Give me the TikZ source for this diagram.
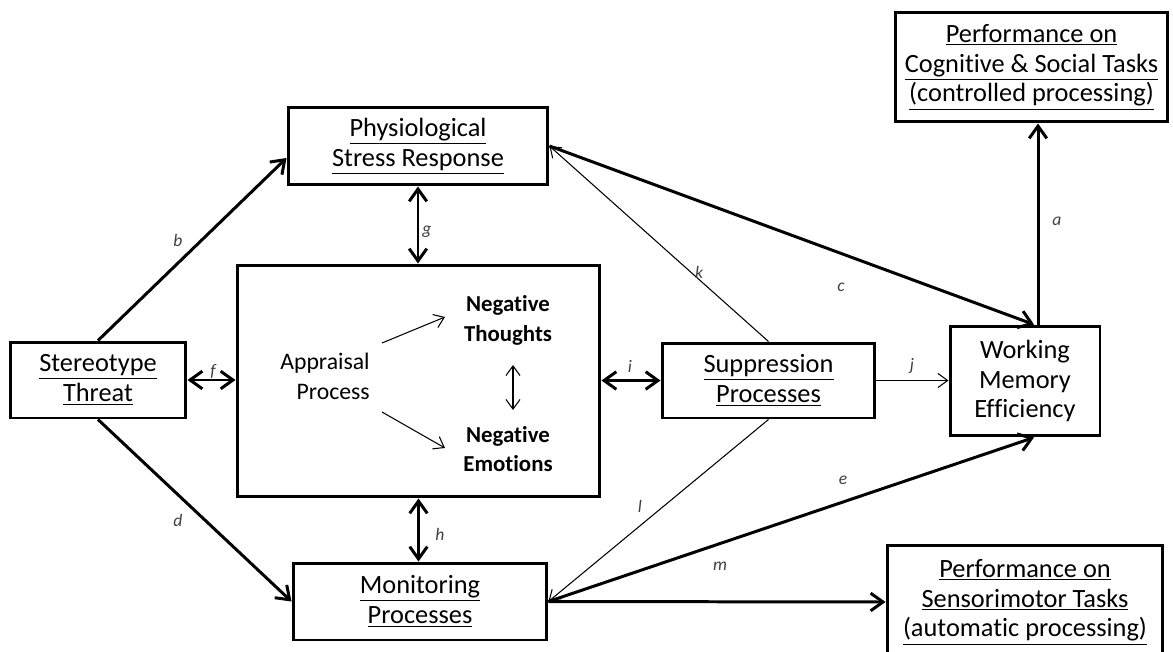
\documentclass[tikz,border=0pt]{standalone}
\usepackage{fontspec}
\setmainfont{Carlito}[Ligatures=NoCommon]
\usetikzlibrary{arrows.meta,calc}
\tikzset{
  box/.style={draw,line width=1.7pt,rectangle,inner sep=0pt,align=center,font=\fontsize{15}{17}\selectfont},
  thick arrow/.style={line width=1.7pt,-{Straight Barb[length=7pt,width=10pt]}},
  thick double/.style={line width=1.7pt,{Straight Barb[length=7pt,width=10pt]}-{Straight Barb[length=7pt,width=10pt]}},
  thin arrow/.style={line width=0.6pt,-{Straight Barb[length=5.5pt,width=8pt]}},
  thin double/.style={line width=0.6pt,{Straight Barb[length=5.5pt,width=8pt]}-{Straight Barb[length=5.5pt,width=8pt]}},
  inner/.style={align=right,font=\fontsize{13.5}{17}\selectfont},
  innerb/.style={align=center,font=\fontsize{13}{17}\selectfont\bfseries},
  lab/.style={font=\fontsize{10}{11}\selectfont\itshape,inner sep=0pt,text=black!75}
}
\begin{document}
\begin{tikzpicture}[x=0.02cm,y=-0.02cm]
\useasboundingbox (0,0) rectangle (1173,652);
\clip (0,0) rectangle (1173,652);
% boxes
\node[box,minimum width=3.52cm,minimum height=1.52cm] (ST) at (98,380) {\underline{Stereotype}\\\underline{Threat}};
\node[box,minimum width=7.26cm,minimum height=4.64cm] (C) at (418.5,381) {};
\node[box,minimum width=5.2cm,minimum height=1.56cm] (PH) at (418,146) {\underline{Physiological}\\\underline{Stress Response}};
\node[box,minimum width=5.46cm,minimum height=2.2cm] (PC) at (1031.5,67) {\underline{Performance on}\\\underline{Cognitive \& Social Tasks}\\\underline{(controlled processing)}};
\node[box,minimum width=5.52cm,minimum height=2.28cm] (PS) at (1025,602) {\underline{Performance on}\\\underline{Sensorimotor Tasks}\\\underline{(automatic processing)}};
\node[box,minimum width=4.26cm,minimum height=1.5cm] (SU) at (768.5,380.5) {\underline{Suppression}\\\underline{Processes}};
\node[box,minimum width=3.0cm,minimum height=2.2cm] (WM) at (1025,381) {Working\\Memory\\Efficiency};
\node[box,minimum width=5.08cm,minimum height=1.54cm] (MO) at (420,601.5) {\underline{Monitoring}\\\underline{Processes}};
% inner content
\node[inner,anchor=east,inner sep=0pt] (AP) at (370,376) {Appraisal\\Process};
\node[innerb] (NT) at (508,320) {Negative\\Thoughts};
\node[innerb] (NE) at (508,449) {Negative\\Emotions};
\coordinate (ap1) at (382,343);
\coordinate (nt1) at (445,317);
\coordinate (ap2) at (382,412);
\coordinate (ne1) at (445,448);
\coordinate (ntb) at (513,365);
\coordinate (net) at (513,410);
\draw[thin arrow] (ap1) -- (nt1);
\draw[thin arrow] (ap2) -- (ne1);
\draw[thin double] (ntb) -- (net);
% connectors
\coordinate (phb) at ($(PH.west)+(0,12)$);
\coordinate (wmc) at ($(WM.north)+(9,0)$);
\coordinate (wma) at ($(WM.north)+(13,0)$);
\coordinate (wme) at ($(WM.south)+(9,0)$);
\draw[thick arrow] (ST.north) -- (phb);
\draw[thick arrow] (ST.south) -- (MO.west);
\draw[thick double] (ST.east) -- (ST.east -| C.west);
\draw[thick double] (PH.south) -- (PH.south |- C.north);
\draw[thick double] (C.south) -- (C.south |- MO.north);
\draw[thick double] (SU.west -| C.east) -- (SU.west);
\draw[thin arrow] (SU.east) -- (SU.east -| WM.west);
\draw[thick arrow] (PH.east) -- (wmc);
\draw[thick arrow] (wma) -- (wma |- PC.south);
\draw[thin arrow] (SU.north) -- (PH.east);
\draw[thin arrow] (SU.south) -- (MO.east);
\draw[thick arrow] (MO.east) -- (wme);
\draw[thick arrow] (MO.east) -- (PS.west);
% labels
\node[lab] (lb) at (178,240) {b};
\node[lab] (lf) at (213,372) {f};
\node[lab] (ld) at (178,520) {d};
\node[lab] (lg) at (427,232) {g};
\node[lab] (lh) at (440,534) {h};
\node[lab] (li) at (630,366) {i};
\node[lab] (lj) at (912,366) {j};
\node[lab] (lk) at (699,272) {k};
\node[lab] (lc) at (841,287) {c};
\node[lab] (la) at (1057,221) {a};
\node[lab] (ll) at (640,506) {l};
\node[lab] (le) at (843,480) {e};
\node[lab] (lm) at (720,566) {m};
\end{tikzpicture}
\end{document}
